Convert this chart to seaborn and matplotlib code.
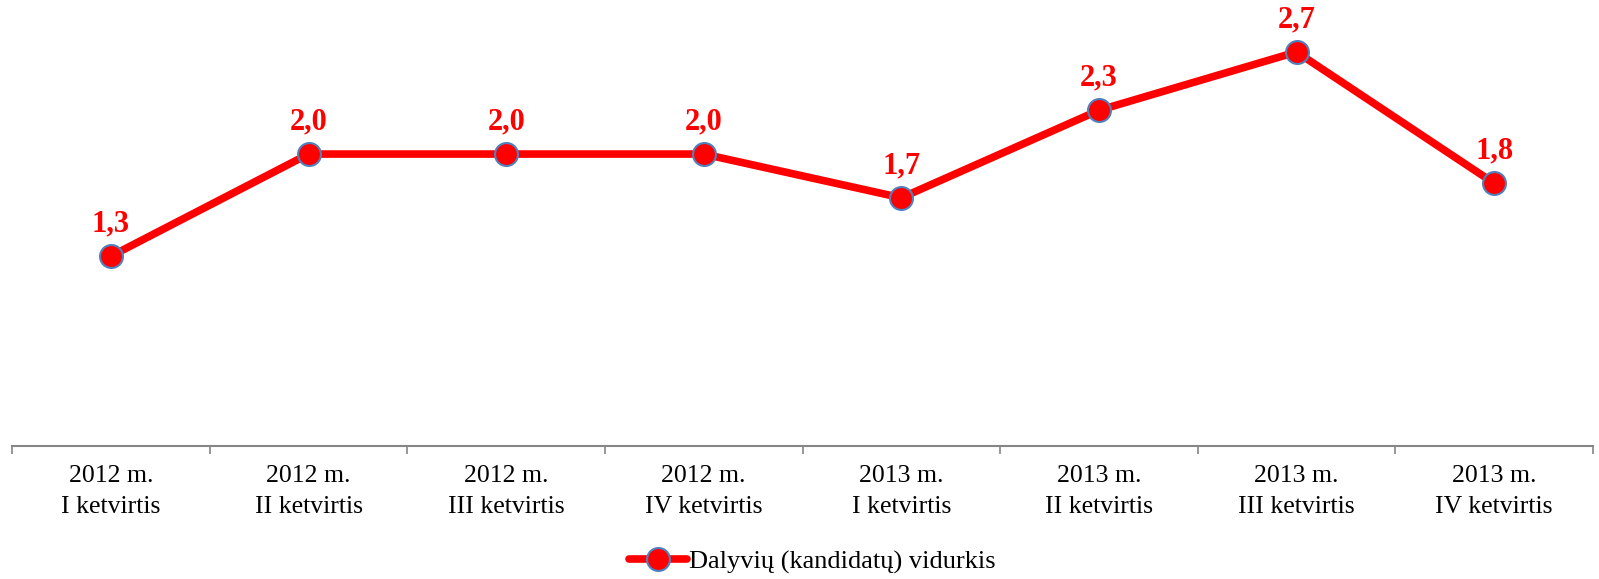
import matplotlib.pyplot as plt
import numpy as np
import pandas as pd
import seaborn as sns

# Data
quarters = [
    "2012 m.\nI ketvirtis", "2012 m.\nII ketvirtis", "2012 m.\nIII ketvirtis", "2012 m.\nIV ketvirtis",
    "2013 m.\nI ketvirtis", "2013 m.\nII ketvirtis", "2013 m.\nIII ketvirtis", "2013 m.\nIV ketvirtis",
]
average = [1.3, 2.0, 2.0, 2.0, 1.7, 2.3, 2.7, 1.8]
series_name = "Dalyvių (kandidatų) vidurkis"

sns.set_style("white")
plt.rcParams["font.family"] = ["Liberation Serif", "DejaVu Serif"]
plt.rcParams["text.color"] = "black"

df = pd.DataFrame({"pos": np.arange(len(quarters)), "value": average})

fig = plt.figure(figsize=(15.99, 5.79), dpi=100)
ax = fig.add_axes([0.0076, 0.2302, 0.9886, 0.7556])

sns.lineplot(
    data=df, x="pos", y="value", ax=ax,
    color="#FF0000", linewidth=5.5,
    marker="o", markersize=16.5, markerfacecolor="#FF0000",
    markeredgecolor="#4F81BD", markeredgewidth=1.5,
    label=series_name, legend=False,
)

# data labels
for x, v in zip(df["pos"], df["value"]):
    ax.annotate(f"{v:.1f}".replace(".", ","), (x, v), xytext=(0, 23),
                textcoords="offset points", ha="center", va="center",
                color="#FF0000", fontsize=22, fontweight="bold")

ax.set_xlim(-0.5, len(quarters) - 0.5)
ax.set_ylim(0, 3.0)

# category labels centered, tick marks at category boundaries
ax.set_xticks(df["pos"])
ax.set_xticklabels(quarters, fontsize=18.5, color="black", linespacing=1.5)
ax.set_xticks(np.arange(-0.5, len(quarters)), minor=True)
ax.tick_params(axis="x", which="major", bottom=True, length=0, pad=14)
ax.tick_params(axis="x", which="minor", bottom=True, length=6, width=1.2,
               color="#868686", direction="out")
ax.set_yticks([])
ax.set_xlabel("")
ax.set_ylabel("")

for side in ["left", "right", "top"]:
    ax.spines[side].set_visible(False)
ax.spines["bottom"].set_color("#868686")
ax.spines["bottom"].set_linewidth(1.5)

handles, labels = ax.get_legend_handles_labels()
leg = fig.legend(handles, labels, loc="center", bbox_to_anchor=(0.508, 0.03),
                 frameon=False, fontsize=19, handlelength=2.2, handletextpad=0.05)
for t in leg.get_texts():
    t.set_color("black")

fig.savefig("out.png", dpi=100)
